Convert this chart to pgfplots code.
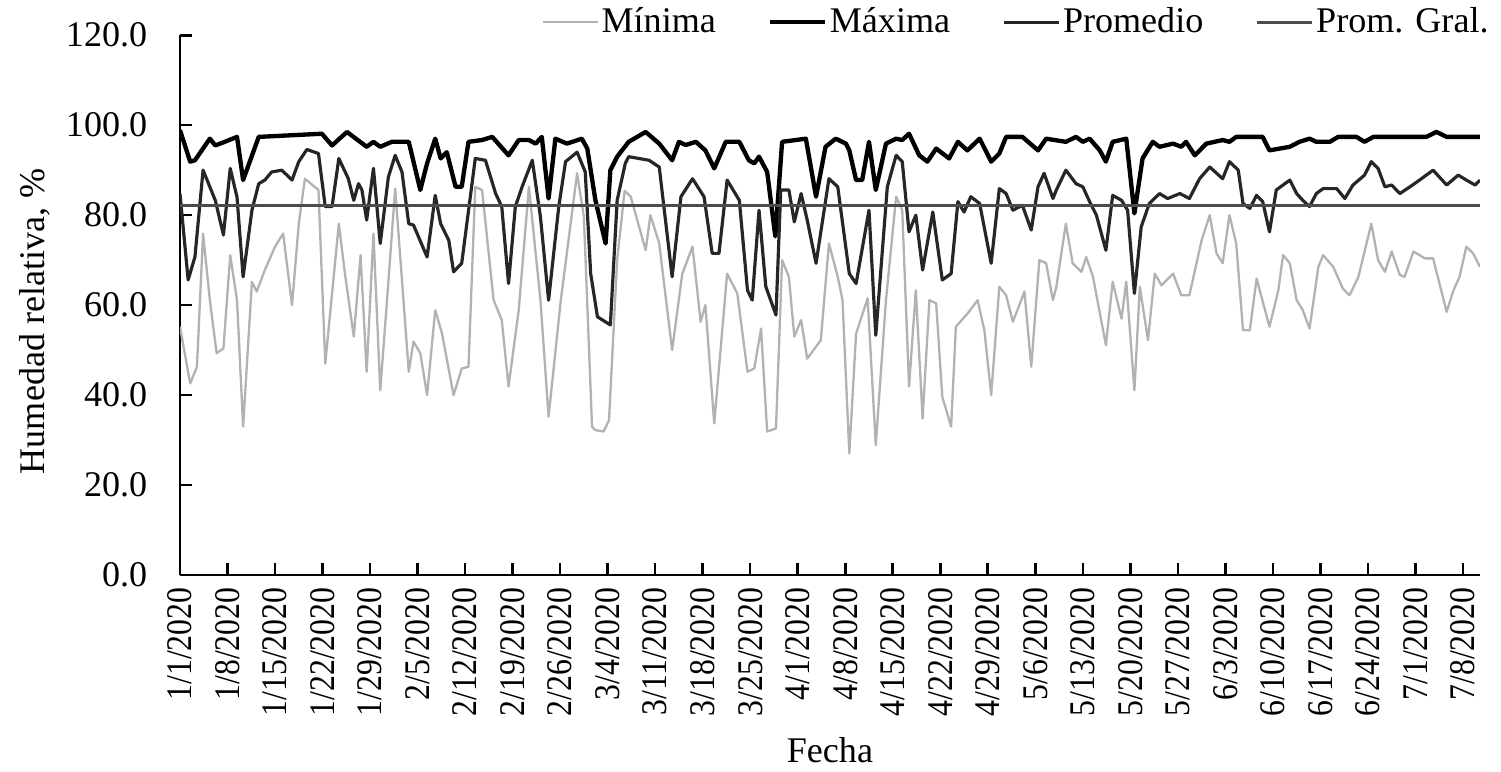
\documentclass[border=0pt]{standalone}
\usepackage{fontspec}
\setmainfont{Liberation Serif}
\newfontfamily\condensed[FakeStretch=0.88]{Liberation Serif}
\usepackage{pgfplots}
\pgfplotsset{compat=1.18}

\pgfplotstableread{
x y
0 55.2
1.5 42.6
2.5 46.3
3.4 75.9
4.4 61.1
5.4 49.3
6.4 50.4
7.4 71.1
8.4 61.1
9.3 33.0
10.6 65.2
11.3 63.0
12.5 67.8
14.0 73.0
15.2 75.9
16.5 60.0
17.5 78.1
18.4 88.1
20.4 85.6
21.4 47.0
23.4 78.1
24.3 67.0
25.6 53.0
26.6 71.1
27.5 45.2
28.5 75.9
29.5 41.1
30.5 61.1
31.7 85.9
32.7 65.6
33.7 45.2
34.4 51.9
35.4 49.3
36.4 40.0
37.6 58.9
38.6 53.7
40.3 40.0
41.5 45.9
42.5 46.3
43.5 86.3
44.5 85.6
46.2 61.1
47.4 56.7
48.4 41.9
49.9 58.9
51.4 86.3
53.1 61.1
54.3 35.2
56.1 61.1
58.5 89.3
59.5 79.6
60.7 33.0
61.2 32.2
62.4 31.9
63.2 34.4
64.4 70.0
65.5 85.4
66.4 84.1
68.6 72.2
69.3 80.0
70.6 73.7
72.5 50.0
74.0 67.0
75.5 73.0
76.7 56.3
77.4 60.0
78.7 33.7
80.6 67.0
82.1 62.6
83.6 45.2
84.6 45.9
85.6 54.8
86.5 31.9
87.8 32.6
88.7 70.0
89.7 66.3
90.5 53.0
91.5 56.7
92.4 48.1
94.4 52.2
95.6 73.7
96.9 66.3
97.6 61.1
98.6 27.0
99.6 53.7
101.3 61.5
102.5 28.9
104.0 61.1
105.5 84.1
106.4 81.1
107.4 41.9
108.4 63.3
109.4 34.8
110.4 61.1
111.4 60.4
112.3 39.6
113.6 33.0
114.3 55.2
116.0 58.1
117.5 61.1
118.5 54.4
119.5 40.0
120.7 64.1
121.7 62.2
122.7 56.3
124.4 63.0
125.4 46.3
126.6 70.0
127.6 69.3
128.6 61.1
129.1 64.1
130.5 78.1
131.5 69.3
132.8 67.4
133.5 70.7
134.5 66.3
136.4 51.1
137.4 65.2
138.7 57.0
139.4 65.2
140.6 41.1
141.4 64.1
142.6 52.2
143.6 67.0
144.6 64.4
146.3 67.0
147.5 62.2
148.7 62.2
150.5 74.4
151.7 80.0
152.7 71.5
153.6 69.3
154.6 80.0
155.6 73.7
156.6 54.4
157.6 54.4
158.6 65.9
160.5 55.2
161.8 63.3
162.5 71.1
163.5 69.3
164.5 61.1
165.4 58.9
166.4 54.8
167.7 68.5
168.4 71.1
169.9 68.5
171.3 63.7
172.3 62.2
173.6 66.3
175.5 78.1
176.5 70.0
177.5 67.4
178.5 71.9
179.7 66.7
180.4 66.3
181.7 71.9
183.4 70.4
184.6 70.4
186.6 58.5
187.6 63.3
188.5 66.3
189.5 73.0
190.5 71.5
191.5 68.5
}\minima

\pgfplotstableread{
x y
0 98.9
1.5 91.9
2.2 92.2
4.4 97.0
5.2 95.5
6.6 96.3
8.4 97.4
9.3 87.8
11.6 97.4
20.9 98.1
22.4 95.5
24.6 98.5
27.5 95.2
28.5 96.3
29.5 95.2
31.2 96.3
33.7 96.3
35.4 85.6
36.4 91.5
37.6 97.0
38.4 92.6
39.3 94.0
40.6 86.3
41.5 86.3
42.5 96.3
44.5 96.7
46.0 97.4
48.4 93.3
49.9 96.7
51.4 96.7
52.4 95.9
53.3 97.4
54.3 83.7
55.3 97.0
57.0 95.9
59.2 97.0
60.0 94.8
61.2 83.3
62.7 73.7
63.4 90.0
64.4 93.0
66.1 96.3
68.6 98.5
70.6 95.9
72.5 92.2
73.5 96.3
74.5 95.6
76.0 96.3
77.4 94.4
78.7 90.4
80.4 96.3
82.4 96.3
83.8 92.2
84.6 91.5
85.3 93.0
86.5 89.6
87.7 75.3
88.7 96.3
90.7 96.7
92.2 97.0
93.7 84.1
95.1 95.2
96.6 97.0
98.1 95.9
98.6 94.4
99.6 87.8
100.5 87.8
101.5 96.3
102.5 85.6
104.0 95.9
105.5 97.0
106.4 96.7
107.4 98.1
108.9 93.3
110.1 91.9
111.4 94.8
113.3 92.6
114.6 96.3
116.0 94.4
117.8 97.0
119.5 91.9
120.7 93.7
121.7 97.4
124.1 97.4
126.4 94.4
127.6 97.0
130.5 96.3
132.0 97.4
133.0 96.3
134.0 97.0
135.5 94.4
136.4 91.9
137.4 96.3
139.4 97.0
140.6 80.4
141.8 92.6
143.3 96.3
144.3 95.2
146.3 95.9
147.5 95.2
148.2 96.3
149.5 93.3
151.2 95.9
153.6 96.7
154.6 96.3
155.6 97.4
159.5 97.4
160.5 94.4
163.5 95.2
164.9 96.3
166.4 97.0
167.4 96.3
169.4 96.3
170.6 97.4
173.3 97.4
174.5 96.3
175.8 97.4
183.6 97.4
185.1 98.5
186.6 97.4
191.5 97.4
}\maxima

\pgfplotstableread{
x y
0 84.8
1.2 65.6
2.2 70.7
3.4 90.0
5.2 83.3
6.4 75.6
7.4 90.4
8.4 84.0
9.3 66.3
10.6 81.1
11.6 87.0
12.5 87.8
13.5 89.6
15.0 90.0
16.5 87.8
17.5 91.9
18.7 94.6
20.4 93.7
21.4 81.9
22.4 81.9
23.4 92.6
24.8 88.1
25.6 83.3
26.3 87.0
26.8 85.6
27.5 78.9
28.5 90.4
29.5 73.7
30.7 88.5
31.7 93.3
32.7 89.6
33.7 78.1
34.4 77.8
36.4 70.7
37.6 84.4
38.4 78.1
39.6 74.4
40.3 67.4
41.5 69.3
43.5 92.6
45.0 92.2
46.5 84.8
47.4 81.9
48.4 64.8
49.4 81.9
50.4 86.3
51.9 92.2
53.1 79.6
54.3 61.1
55.8 81.9
56.8 91.9
58.5 94.0
59.7 89.6
60.5 67.0
61.5 57.4
63.4 55.6
64.4 83.3
65.6 91.5
66.1 93.0
69.1 92.2
70.6 90.7
72.5 66.3
73.8 84.1
75.5 88.1
77.2 84.1
78.4 71.5
79.4 71.5
80.6 87.8
82.4 83.3
83.6 63.3
84.3 61.1
85.3 81.1
86.3 64.1
87.8 57.8
88.5 85.6
89.7 85.6
90.5 78.5
91.5 84.8
92.4 78.9
93.7 69.3
95.6 88.1
96.9 86.3
98.6 67.0
99.6 64.8
101.5 81.1
102.5 53.3
104.2 86.3
105.5 93.3
106.4 91.9
107.4 76.3
108.4 80.0
109.4 67.8
110.9 80.7
112.3 65.6
113.6 67.0
114.6 83.0
115.5 80.7
116.5 84.1
117.8 82.6
119.5 69.3
120.7 85.9
121.7 84.8
122.7 81.1
124.1 82.2
125.4 76.7
126.4 86.3
127.3 89.3
128.6 83.7
129.1 85.6
130.5 90.0
132.0 87.0
133.0 86.3
134.0 83.0
135.0 80.0
136.4 72.2
137.4 84.4
138.7 83.3
139.6 81.1
140.6 62.6
141.6 77.4
142.8 82.6
144.3 84.8
145.5 83.7
147.3 84.8
148.7 83.7
150.2 88.1
151.7 90.7
153.6 88.1
154.6 91.9
155.9 90.0
156.6 82.6
157.6 81.5
158.6 84.4
159.5 83.0
160.5 76.3
161.5 85.6
163.5 87.8
164.5 84.8
165.4 83.3
166.4 81.9
167.4 84.8
168.4 85.9
170.4 85.9
171.6 83.7
172.8 86.7
174.5 88.9
175.5 91.9
176.5 90.4
177.5 86.3
178.5 86.7
179.7 84.8
181.2 86.3
182.6 87.8
184.6 90.0
186.6 86.7
188.3 88.9
189.5 87.8
190.8 86.7
191.5 87.8
}\promedio

\begin{document}
\fontsize{12.5}{15}\selectfont
\begin{tikzpicture}
% page size fixed to the reference proportions (1501x771 px)
\path[use as bounding box] (-62.35pt,-67.9pt) rectangle (457.6pt,199.2pt);
\begin{axis}[
  scale only axis, width=450.3pt, height=187pt,
  at={(0,0)}, anchor=south west,
  xmin=0, xmax=191.5, ymin=0, ymax=120,
  axis x line*=bottom, axis y line*=left,
  axis line style={line width=0.9pt},
  tick align=inside, major tick length=4pt,
  tick style={line width=0.9pt, black},
  xtick={0,7,...,189},
  xticklabels={1/1/2020,1/8/2020,1/15/2020,1/22/2020,1/29/2020,2/5/2020,
    2/12/2020,2/19/2020,2/26/2020,3/4/2020,3/11/2020,3/18/2020,3/25/2020,
    4/1/2020,4/8/2020,4/15/2020,4/22/2020,4/29/2020,5/6/2020,5/13/2020,
    5/20/2020,5/27/2020,6/3/2020,6/10/2020,6/17/2020,6/24/2020,7/1/2020,7/8/2020},
  x tick label style={rotate=90, anchor=east, font=\condensed},
  ytick={0,20,...,120},
  yticklabel style={xshift=-7pt,
    /pgf/number format/fixed, /pgf/number format/fixed zerofill,
    /pgf/number format/precision=1, /pgf/number format/assume math mode=true},
  xlabel={Fecha}, ylabel={Humedad relativa, \%},
  xlabel style={at={(axis description cs:0.5,-0.324)}, anchor=center},
  ylabel style={at={(axis description cs:-0.1115,0.47)}, anchor=center, rotate=0},
  every axis plot/.append style={mark=none, line join=round},
  legend columns=-1,
  legend style={at={(1.016,1.024)}, anchor=east, draw=none, fill=none,
    nodes={inner sep=1pt},
    /tikz/every even column/.append style={column sep=17pt}},
  legend image code/.code={\draw[#1] (0pt,0pt) -- (19pt,0pt);},
]
\addplot[gray!60, line width=0.8pt] table {\minima};
\addlegendentry{Mínima}
\addplot[black, line width=1.5pt] table {\maxima};
\addlegendentry{Máxima}
\addplot[black!85, line width=1.1pt] table {\promedio};
\addlegendentry{Promedio}
\addplot[black!70, line width=1.1pt] coordinates {(0,82.2) (191.5,82.2)};
\addlegendentry{Prom. Gral.}
\end{axis}
\end{tikzpicture}
\end{document}
